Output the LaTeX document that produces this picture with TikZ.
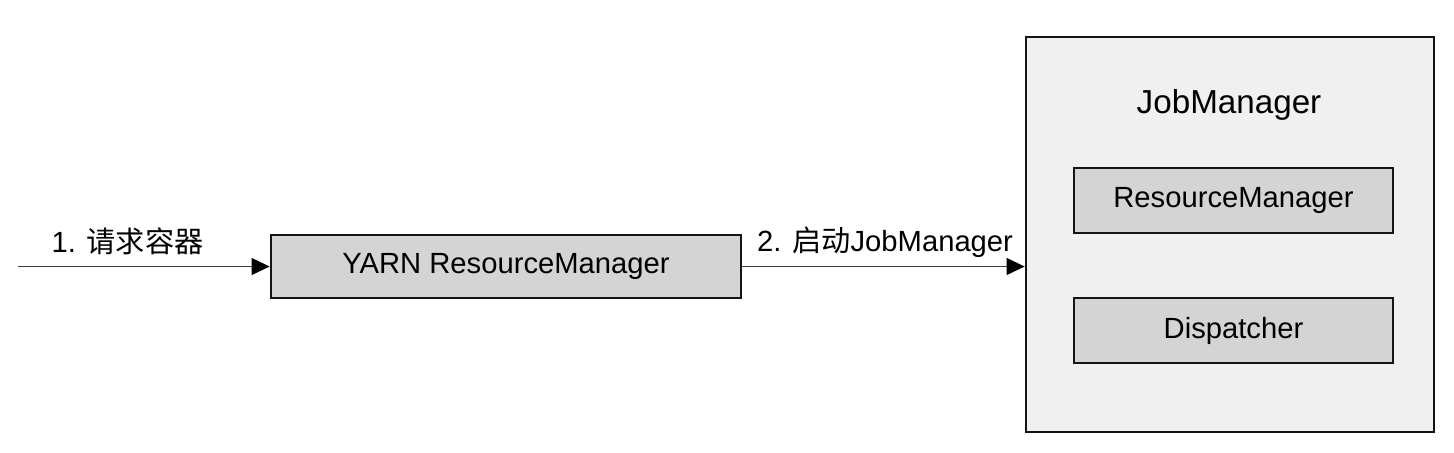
\documentclass[tikz,border=0pt]{standalone}
\usepackage{fontspec}
\setmainfont{Liberation Sans}
\newfontfamily\cjk{Noto Sans CJK SC}
\usetikzlibrary{arrows.meta}
\definecolor{boxfill}{HTML}{D4D4D4}
\definecolor{outerfill}{HTML}{F0F0F0}
\definecolor{edge}{HTML}{141414}
\begin{document}
\begin{tikzpicture}[x=0.5pt,y=-0.5pt,
  inner/.style={draw=edge,line width=1.4pt,fill=boxfill,inner sep=0pt,font=\fontsize{14.6}{17}\selectfont},
  outer/.style={draw=edge,line width=1.4pt,fill=outerfill,inner sep=0pt},
  lbl/.style={inner sep=0pt,font=\fontsize{14.6}{17}\selectfont},
  conn/.style={draw=black!75,line width=0.55pt,-{Triangle[length=9pt,width=8.5pt,color=black,fill=black]}}]
\useasboundingbox (0,0) rectangle (1454,452);
\node[inner,minimum width=235pt,minimum height=31.5pt] (yarn) at (506,266.5) {YARN ResourceManager};
\node[outer,minimum width=204pt,minimum height=197.5pt] (jm) at (1230,234.5) {};
\node[lbl,font=\fontsize{16.6}{19}\selectfont] (jmt) at (1229,105) {JobManager};
\node[inner,minimum width=159.5pt,minimum height=32.5pt] (rm) at (1233.5,200.5) {ResourceManager};
\node[inner,minimum width=159.5pt,minimum height=32.5pt] (disp) at (1233.5,330.5) {Dispatcher};
\coordinate (start) at (18,266.5);
\draw[conn] (start) -- (yarn.west);
\draw[conn] (yarn.east) -- (jm.west |- yarn.east);
\node[lbl] (l1) at (127.5,241) {1. {\cjk 请求容器}};
\node[lbl] (l2) at (885,242) {2. {\cjk 启动}JobManager};
\end{tikzpicture}
\end{document}
